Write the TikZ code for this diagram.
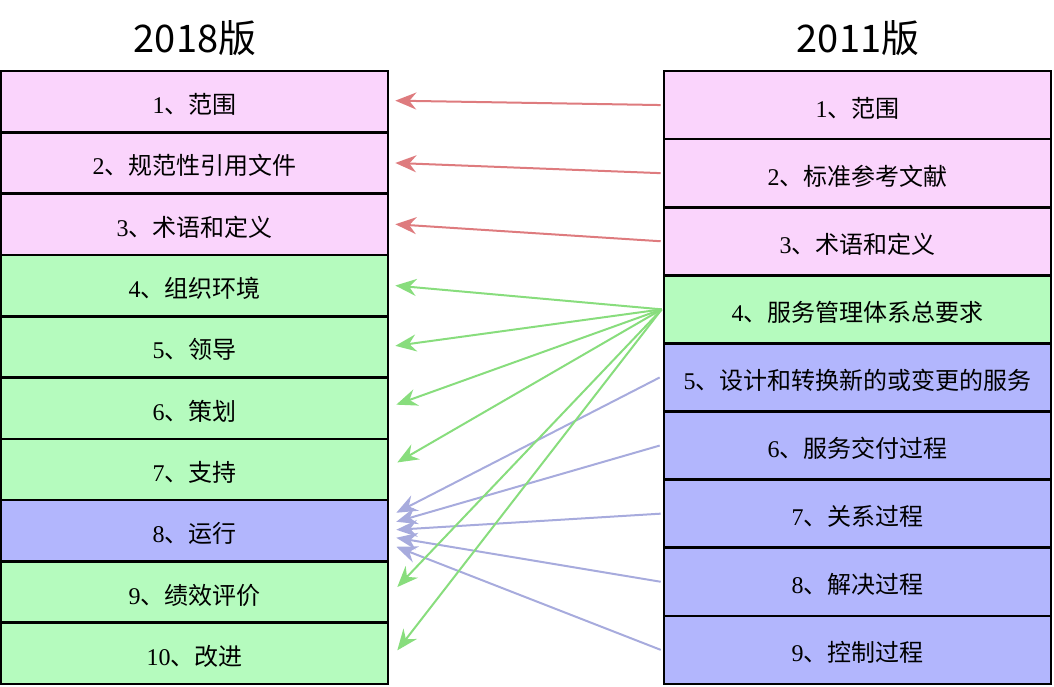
\documentclass[tikz,border=0pt]{standalone}
\usepackage{fontspec}
\setmainfont{Liberation Serif}
\newfontfamily\cjk{Noto Sans CJK SC}
\usetikzlibrary{arrows.meta}
\definecolor{pinkf}{RGB}{250,212,252}
\definecolor{greenf}{RGB}{181,251,190}
\definecolor{bluef}{RGB}{178,182,253}
\definecolor{arrred}{RGB}{222,123,126}
\definecolor{arrgreen}{RGB}{136,221,125}
\definecolor{arrblue}{RGB}{167,171,221}
\newcommand\lb[2]{#1{\cjk #2}}
\tikzset{
  cell/.style={draw=black, line width=2.6pt, inner sep=0pt,
    font=\fontsize{24}{28}\selectfont, text height=24pt, text depth=0pt},
  lbox/.style={cell, minimum width=387pt, minimum height=61.3pt},
  rbox/.style={cell, minimum width=387pt, minimum height=68.1pt},
  ttl/.style={font=\cjk\fontsize{38}{42}\selectfont},
  arr/.style={line width=2pt, -{Stealth[length=21pt,width=17pt,inset=7pt]}},
  redarr/.style={arr, draw=arrred},
  greenarr/.style={arr, draw=arrgreen},
  bluearr/.style={arr, draw=arrblue},
}
\begin{document}
\begin{tikzpicture}[x=1pt,y=-1pt]
\useasboundingbox (0,0) rectangle (1054,686);
\node[ttl] (t1) at (195,38) {2018版};
\node[ttl] (t2) at (858,38) {2011版};
% left column
\node[lbox, fill=pinkf]  (l1)  at (194.5,101.65) {\lb{1}{、范围}};
\node[lbox, fill=pinkf]  (l2)  at (194.5,162.95) {\lb{2}{、规范性引用文件}};
\node[lbox, fill=pinkf]  (l3)  at (194.5,224.25) {\lb{3}{、术语和定义}};
\node[lbox, fill=greenf] (l4)  at (194.5,285.55) {\lb{4}{、组织环境}};
\node[lbox, fill=greenf] (l5)  at (194.5,346.85) {\lb{5}{、领导}};
\node[lbox, fill=greenf] (l6)  at (194.5,408.15) {\lb{6}{、策划}};
\node[lbox, fill=greenf] (l7)  at (194.5,469.45) {\lb{7}{、支持}};
\node[lbox, fill=bluef]  (l8)  at (194.5,530.75) {\lb{8}{、运行}};
\node[lbox, fill=greenf] (l9)  at (194.5,592.05) {\lb{9}{、绩效评价}};
\node[lbox, fill=greenf] (l10) at (194.5,653.35) {\lb{10}{、改进}};
% right column
\node[rbox, fill=pinkf]  (r1) at (857.5,105.05) {\lb{1}{、范围}};
\node[rbox, fill=pinkf]  (r2) at (857.5,173.15) {\lb{2}{、标准参考文献}};
\node[rbox, fill=pinkf]  (r3) at (857.5,241.25) {\lb{3}{、术语和定义}};
\node[rbox, fill=greenf] (r4) at (857.5,309.35) {\lb{4}{、服务管理体系总要求}};
\node[rbox, fill=bluef]  (r5) at (857.5,377.45) {\lb{5}{、设计和转换新的或变更的服务}};
\node[rbox, fill=bluef]  (r6) at (857.5,445.55) {\lb{6}{、服务交付过程}};
\node[rbox, fill=bluef]  (r7) at (857.5,513.65) {\lb{7}{、关系过程}};
\node[rbox, fill=bluef]  (r8) at (857.5,581.75) {\lb{8}{、解决过程}};
\node[rbox, fill=bluef]  (r9) at (857.5,649.85) {\lb{9}{、控制过程}};
% red arrows
\draw[redarr] ([xshift=-2pt]r1.west) -- ([xshift=6pt,yshift=1pt]l1.east);
\draw[redarr] ([xshift=-2pt]r2.west) -- ([xshift=6pt]l2.east);
\draw[redarr] ([xshift=-2pt]r3.west) -- ([xshift=6pt]l3.east);
% blue arrows
\draw[bluearr] ([xshift=-3pt]r5.west) -- ([xshift=7pt,yshift=18pt]l8.east);
\draw[bluearr] ([xshift=-3pt]r6.west) -- ([xshift=7pt,yshift=9pt]l8.east);
\draw[bluearr] ([xshift=-2pt]r7.west) -- ([xshift=7pt,yshift=1pt]l8.east);
\draw[bluearr] ([xshift=-2pt]r8.west) -- ([xshift=7pt,yshift=-7pt]l8.east);
\draw[bluearr] ([xshift=-2pt]r9.west) -- ([xshift=7pt,yshift=-16pt]l8.east);
% green arrows
\draw[greenarr] ([xshift=-1pt]r4.west) -- ([xshift=6pt]l4.east);
\draw[greenarr] ([xshift=-1pt]r4.west) -- ([xshift=6pt,yshift=1pt]l5.east);
\draw[greenarr] ([xshift=-1pt]r4.west) -- ([xshift=7pt,yshift=3.5pt]l6.east);
\draw[greenarr] ([xshift=-1pt]r4.west) -- ([xshift=8pt,yshift=7pt]l7.east);
\draw[greenarr] ([xshift=-1pt]r4.west) -- ([xshift=8pt,yshift=5pt]l9.east);
\draw[greenarr] ([xshift=-1pt]r4.west) -- ([xshift=8pt,yshift=3pt]l10.east);
\end{tikzpicture}
\end{document}
